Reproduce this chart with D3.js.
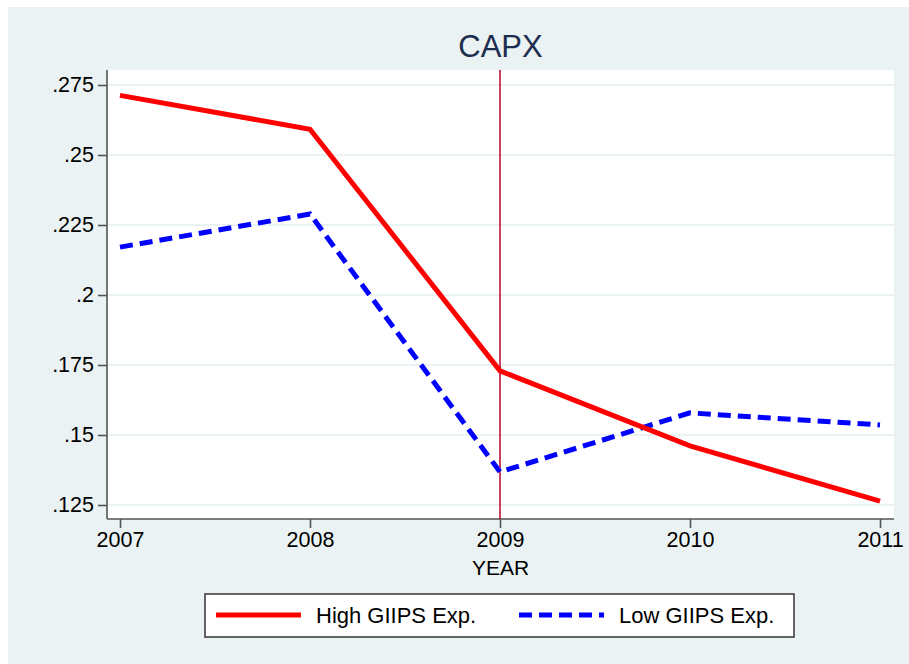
<!DOCTYPE html>
<html>
<head>
<meta charset="utf-8">
<script src="https://cdn.jsdelivr.net/npm/d3@7"></script>
<style>
  body { margin: 0; background: #fff; }
  svg { display: block; font-family: "Liberation Sans", Arial, sans-serif; }
</style>
</head>
<body>
<div id="chart"></div>
<script>
var years = [2007, 2008, 2009, 2010, 2011];
var highExp = [0.2713, 0.2592, 0.1729, 0.1461, 0.1264];
var lowExp = [0.2171, 0.2289, 0.1368, 0.1579, 0.1536];
var yTicks = [0.125, 0.15, 0.175, 0.2, 0.225, 0.25, 0.275];
var seriesNames = ["High GIIPS Exp.", "Low GIIPS Exp."];
var crisisYear = 2009;

var width = 909, height = 664;
var plot = {left: 107, right: 894, top: 70, bottom: 519};

var svg = d3.select("#chart").append("svg")
  .attr("width", width)
  .attr("height", height);

// outer background
svg.append("rect")
  .attr("x", 8).attr("y", 7)
  .attr("width", width - 8).attr("height", height - 7)
  .attr("fill", "#eaf2f3");

svg.append("rect")
  .attr("x", plot.left).attr("y", plot.top)
  .attr("width", plot.right - plot.left).attr("height", plot.bottom - plot.top)
  .attr("fill", "#fff");

var x = d3.scaleLinear().domain([2007, 2011]).range([120, 880]);
var y = d3.scaleLinear().domain([0.125, 0.275]).range([505, 85]);

// grid
svg.append("g").selectAll("line")
  .data(yTicks)
  .enter().append("line")
  .attr("x1", plot.left).attr("x2", plot.right)
  .attr("y1", function (d) { return y(d); })
  .attr("y2", function (d) { return y(d); })
  .attr("stroke", "#eaf2f3")
  .attr("stroke-width", 2);

function fmt(d) {
  return d3.format(".3~f")(d).replace(/^0/, "");
}

// y axis
var yAxis = svg.append("g")
  .attr("transform", "translate(" + plot.left + ",0)")
  .call(d3.axisLeft(y).tickValues(yTicks).tickFormat(fmt).tickSize(9).tickPadding(4));
yAxis.select(".domain").attr("d", "M0," + plot.top + "V" + plot.bottom);

// x axis
var xAxis = svg.append("g")
  .attr("transform", "translate(0," + plot.bottom + ")")
  .call(d3.axisBottom(x).tickValues(years).tickFormat(d3.format("d")).tickSize(9).tickPadding(4));
xAxis.select(".domain").attr("d", "M" + plot.left + ",0H" + plot.right);

svg.selectAll(".tick text")
  .attr("fill", "#000")
  .style("font-size", "21.5px");
svg.selectAll(".domain, .tick line")
  .attr("stroke", "#555")
  .attr("stroke-width", 1.6);

// crisis line
svg.append("line")
  .attr("x1", x(crisisYear)).attr("x2", x(crisisYear))
  .attr("y1", plot.top).attr("y2", plot.bottom)
  .attr("stroke", "#b8002e")
  .attr("stroke-width", 1.5);

var line = d3.line()
  .x(function (d) { return x(d[0]); })
  .y(function (d) { return y(d[1]); });

svg.append("path")
  .datum(d3.zip(years, lowExp))
  .attr("d", line)
  .attr("fill", "none")
  .attr("stroke", "#0000ff")
  .attr("stroke-width", 5)
  .attr("stroke-dasharray", "13,7");

svg.append("path")
  .datum(d3.zip(years, highExp))
  .attr("d", line)
  .attr("fill", "none")
  .attr("stroke", "#ff0000")
  .attr("stroke-width", 5);

// title and axis title
svg.append("text")
  .attr("x", (plot.left + plot.right) / 2).attr("y", 57)
  .attr("text-anchor", "middle")
  .attr("fill", "#1c2d4f")
  .style("font-size", "31px")
  .text("CAPX");

svg.append("text")
  .attr("x", (plot.left + plot.right) / 2).attr("y", 575)
  .attr("text-anchor", "middle")
  .attr("fill", "#000")
  .style("font-size", "21px")
  .text("YEAR");

// legend
var legend = svg.append("g");
legend.append("rect")
  .attr("x", 205).attr("y", 594)
  .attr("width", 589).attr("height", 43)
  .attr("fill", "#fff")
  .attr("stroke", "#333")
  .attr("stroke-width", 1.5);

var legendItems = [
  {name: seriesNames[0], color: "#ff0000", dash: null, x0: 216},
  {name: seriesNames[1], color: "#0000ff", dash: "13,7", x0: 519}
];
legendItems.forEach(function (d) {
  legend.append("line")
    .attr("x1", d.x0).attr("x2", d.x0 + 85)
    .attr("y1", 615).attr("y2", 615)
    .attr("stroke", d.color)
    .attr("stroke-width", 5)
    .attr("stroke-dasharray", d.dash);
  legend.append("text")
    .attr("x", d.x0 + 100).attr("y", 623)
    .attr("fill", "#000")
    .style("font-size", "22px")
    .text(d.name);
});
</script>
</body>
</html>
